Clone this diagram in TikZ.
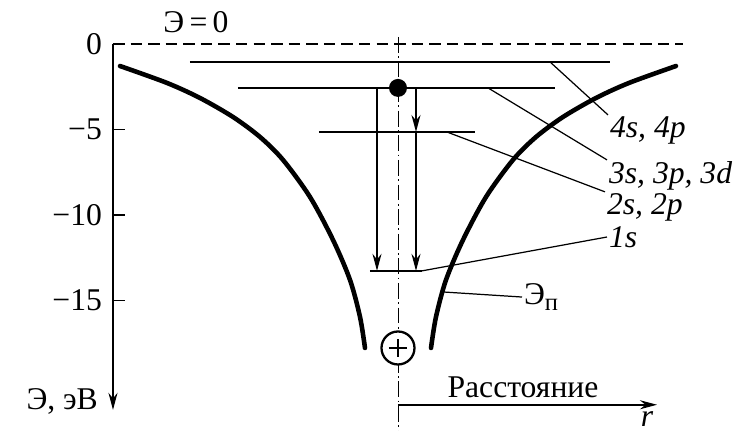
\documentclass[tikz,border=0pt]{standalone}
\usepackage{fontspec}
\setmainfont{Liberation Serif}
\usetikzlibrary{positioning,arrows.meta}

\begin{document}
\begin{tikzpicture}[x=1cm, y=0.342cm,
  level/.style={line width=1.1pt},
  leader/.style={line width=0.7pt},
  well/.style={line width=2.6pt, line cap=round},
  jump/.style={line width=1pt, -{Stealth[length=3.4mm,width=1.8mm]}},
  axis/.style={line width=1pt},
  lbl/.style={font=\fontsize{18}{21}\selectfont\itshape, inner sep=1pt},
  txt/.style={font=\fontsize{18}{21}\selectfont, inner sep=1pt},
]
\useasboundingbox (-7.96,2.57) rectangle (6.84,-22.63);

% energy axis
\coordinate (origin) at (-5.7,0);
\coordinate (eend) at (-5.7,-21.4);
\draw[axis, -{Stealth[length=3.4mm,width=1.8mm]}] (origin) -- (eend);
\foreach \e/\t in {0/0,-5/−5,-10/−10,-15/−15} {
  \draw[axis] (-5.7,\e) -- (-5.46,\e);
  \node[txt, anchor=east] (tick\e) at (-5.88,\e) {\t};
}
\node[txt, anchor=east] (elabel) at (-5.96,-20.9) {Э, эВ};

% zero level
\coordinate (zend) at (5.7,0);
\draw[axis, dash pattern=on 6.5pt off 3.5pt] (origin) -- (zend);
\node[txt] (ezero) at (-4.04,1.29) {Э\,=\,0};

% symmetry line
\coordinate (ctop) at (0,0.41);
\coordinate (cbot) at (0,-22.63);
\draw[line width=0.5pt, dash pattern=on 9pt off 2pt on 1pt off 2pt] (ctop) -- (cbot);

% potential well
\draw[well] plot[smooth] coordinates {(-5.56,-1.29) (-4.62,-2.28) (-3.96,-3.16)
  (-3.30,-4.27) (-2.76,-5.44) (-2.30,-6.78) (-1.76,-8.95) (-1.30,-11.46)
  (-0.96,-13.80) (-0.76,-15.96) (-0.66,-17.78)};
\begin{scope}[xscale=-1]
\draw[well] plot[smooth] coordinates {(-5.56,-1.29) (-4.62,-2.28) (-3.96,-3.16)
  (-3.30,-4.27) (-2.76,-5.44) (-2.30,-6.78) (-1.76,-8.95) (-1.30,-11.46)
  (-0.96,-13.80) (-0.76,-15.96) (-0.66,-17.78)};
\end{scope}

% energy levels
\draw[level] (-4.16,-1.05) coordinate (l4a) -- (4.24,-1.05) coordinate (l4b);
\draw[level] (-3.20,-2.57) coordinate (l3a) -- (3.14,-2.57) coordinate (l3b);
\draw[level] (-1.58,-5.15) coordinate (l2a) -- (1.54,-5.15) coordinate (l2b);
\draw[level] (-0.56,-13.27) coordinate (l1a) -- (0.48,-13.27) coordinate (l1b);

% electron and transitions
\coordinate (j1) at (-0.42,-2.57);
\coordinate (j1e) at (-0.42,-13.27);
\coordinate (j2) at (0.36,-2.57);
\coordinate (j2m) at (0.36,-5.15);
\coordinate (j2e) at (0.36,-13.27);
\draw[jump] (j1) -- (j1e);
\draw[jump] (j2) -- (j2m);
\draw[jump] (j2m) -- (j2e);
\node[circle, fill, minimum size=0.36cm, inner sep=0] (electron) at (0,-2.57) {};

% nucleus
\node[circle, draw, fill=white, line width=1.3pt, minimum size=0.66cm, inner sep=0] (nucleus) at (0,-17.78) {};
\draw[line width=1.6pt] ([xshift=-0.18cm]nucleus.center) -- ([xshift=0.18cm]nucleus.center);
\draw[line width=1.6pt] ([yshift=-0.18cm]nucleus.center) -- ([yshift=0.18cm]nucleus.center);

% labels
\node[lbl, anchor=north west] (n4) at (4.2,-4.15) {4s, 4p};
\node[lbl, anchor=north west] (n3) at (4.18,-6.78) {3s, 3p, 3d};
\node[lbl, anchor=north west] (n2) at (4.14,-8.65) {2s, 2p};
\node[lbl, anchor=west] (n1) at (4.18,-11.29) {1s};
\node[txt, anchor=west] (np) at (2.48,-14.8) {Э\raisebox{-0.45ex}{\fontsize{14}{16}\selectfont п}};
\coordinate (p4) at (3.04,-1.05);
\coordinate (p3) at (1.80,-2.57);
\coordinate (p2) at (0.98,-5.15);
\coordinate (pp) at (0.88,-14.5);
\draw[leader] (p4) -- (n4.north west);
\draw[leader] (p3) -- (n3.north west);
\draw[leader] (p2) -- (n2.north west);
\draw[leader] (l1b) -- (n1.west);
\draw[leader] (pp) -- (np.west);

% distance axis
\coordinate (rstart) at (0,-21.1);
\coordinate (rend) at (5.18,-21.1);
\draw[axis, -{Stealth[length=3.4mm,width=1.8mm]}] (rstart) -- (rend);
\node[txt] (dist) at (2.5,-20.1) {Расстояние};
\node[lbl, anchor=base] (rlabel) at (4.98,-22.35) {r};
\end{tikzpicture}
\end{document}
